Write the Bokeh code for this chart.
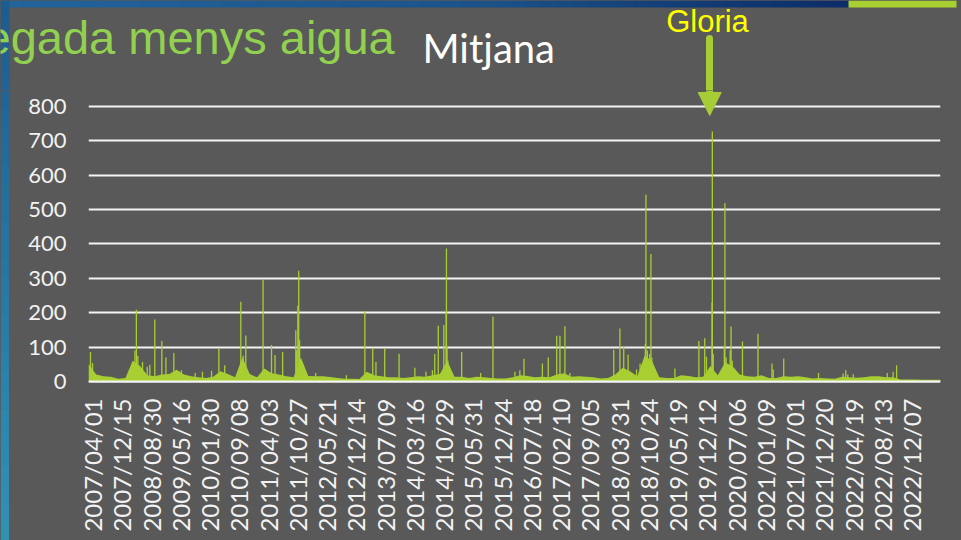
from math import pi
from bokeh.plotting import figure
from bokeh.layouts import column, row
from bokeh.models import Range1d, FixedTicker, Label, Arrow, NormalHead, Span
from bokeh.embed import file_html
from bokeh.resources import INLINE

# ---- data -------------------------------------------------------------
tick_labels = ["2007/04/01", "2007/12/15", "2008/08/30", "2009/05/16", "2010/01/30",
               "2010/09/08", "2011/04/03", "2011/10/27", "2012/05/21", "2012/12/14",
               "2013/07/09", "2014/03/16", "2014/10/29", "2015/05/31", "2015/12/24",
               "2016/07/18", "2017/02/10", "2017/09/05", "2018/03/31", "2018/10/24",
               "2019/05/19", "2019/12/12", "2020/07/06", "2021/01/09", "2021/07/01",
               "2021/12/20", "2022/04/19", "2022/08/13", "2022/12/07"]
y_ticks = [0, 100, 200, 300, 400, 500, 600, 700, 800]

# x measured in "label steps" (0 = first label, 28 = last label)
series_start = -0.137
series_end = 28.99
base_first = -0.125
base_step = 0.25
base_values = [50, 20, 15, 14, 8, 10, 60, 45, 18, 15, 20, 22, 34, 20, 15, 12, 10, 14, 30, 22, 12, 70, 22, 12,
               38, 24, 20, 15, 12, 70, 16, 15, 15, 13, 10, 8, 8, 7, 28, 18, 15, 12, 12, 10, 12, 15, 14,
               18, 22, 60, 14, 14, 10, 14, 12, 10, 9, 9, 12, 18, 16, 12, 14, 12, 20, 24, 14, 15, 14, 12,
               9, 10, 20, 40, 30, 15, 75, 60, 12, 10, 10, 18, 16, 12, 14, 45, 18, 55, 45, 20, 15, 14, 18,
               10, 10, 15, 14, 15, 12, 9, 10, 9, 8, 14, 12, 11, 12, 15, 15, 12, 12, 6, 6, 6, 5, 5, 5]

spike_pos = [-0.07, 0.00, 1.45, 1.50, 1.55, 1.71, 1.87, 1.96, 2.13, 2.37, 2.51, 2.78, 3.04, 3.51, 3.76,
             4.07, 4.32, 4.52, 5.07, 5.15, 5.24,
             5.83, 6.12, 6.24, 6.50, 6.95, 6.98, 7.02, 7.05, 7.08, 7.12, 7.63, 8.68, 9.31, 9.58, 9.69,
             9.99, 10.48, 11.02, 11.40,
             11.62, 11.70, 11.82, 12.01, 12.09, 12.10, 12.12, 12.15, 12.62, 13.27, 13.69, 14.44, 14.61,
             14.75, 15.38, 15.58, 15.87, 15.98, 16.15, 16.32,
             17.82, 18.03, 18.16, 18.31, 18.60, 18.72, 18.90, 18.92, 18.97, 19.05, 19.09, 19.12, 19.91,
             20.73, 20.93, 20.99, 21.18, 21.19, 21.22, 21.60, 21.62, 21.66, 21.80, 21.83, 21.87, 22.22,
             22.75,
             23.23, 23.27, 23.63, 24.82, 25.66, 25.75, 25.82, 26.01, 27.17, 27.37, 27.49]
spike_vals = [86, 54, 90, 209, 75, 57, 43, 49, 180, 118, 70, 83, 33, 25, 28,
              31, 96, 47, 232, 75, 134,
              297, 106, 77, 86, 149, 90, 220, 322, 120, 60, 25, 18, 205, 98, 57,
              96, 81, 40, 28,
              33, 80, 162, 164, 200, 387, 100, 60, 86, 25, 188, 28, 33,
              66, 52, 70, 133, 133, 161, 25,
              92, 154, 102, 78, 35, 52, 110, 543, 90, 80, 371, 70, 38,
              118, 126, 72, 230, 727, 80, 100, 519, 70, 90, 160, 60, 116,
              139,
              52, 35, 67, 25, 23, 33, 20, 21, 25, 28, 47]

# ---- styling ----------------------------------------------------------
BG = "#595959"
GREEN = "#A8CF32"
ARROW = "#A6CC38"
TXT = "#F2F2F2"
PAGE_W, PAGE_H = 961, 540
HEAD_H = 90
BAND_W = 9


def mix(c1, c2, t):
    a = [int(c1[i:i + 2], 16) for i in (1, 3, 5)]
    b = [int(c2[i:i + 2], 16) for i in (1, 3, 5)]
    return "#%02x%02x%02x" % tuple(round(a[k] + (b[k] - a[k]) * t) for k in range(3))


def bare(fig):
    fig.grid.visible = False
    return fig


# decorative slide gradients (left band: top -> bottom, top band: left -> right)
LEFT_TOP, LEFT_BOTTOM = "#1F5B8D", "#3192B4"
TOP_STOPS = [(0, "#22659B"), (480, "#1C5289"), (848, "#0C2C68")]
TOP_GREEN = "#A8D030"
N_STEPS = 24

# ---- header (titles, annotation arrow) --------------------------------
head = bare(figure(width=PAGE_W, height=HEAD_H, output_backend="svg", toolbar_location=None,
                   x_range=Range1d(0, PAGE_W), y_range=Range1d(0, HEAD_H),
                   x_axis_location=None, y_axis_location=None, frame_align=False,
                   min_border=0, background_fill_color=BG, border_fill_color=BG,
                   outline_line_color=None))

# top band gradient
tx0, tx1, tcol = [], [], []
for (xa, ca), (xb, cb) in zip(TOP_STOPS[:-1], TOP_STOPS[1:]):
    for k in range(N_STEPS):
        tx0.append(xa + (xb - xa) * k / N_STEPS)
        tx1.append(xa + (xb - xa) * (k + 1) / N_STEPS + 0.5)
        tcol.append(mix(ca, cb, (k + 0.5) / N_STEPS))
head.quad(left=tx0, right=tx1, bottom=HEAD_H - 7, top=HEAD_H, fill_color=tcol, line_color=None)
head.quad(left=[848], right=[956], bottom=HEAD_H - 7, top=HEAD_H, fill_color=TOP_GREEN, line_color=None)

# left band (header part)
hy0, hy1, hcol = [], [], []
for k in range(6):
    y_top = HEAD_H - HEAD_H * k / 6
    y_bot = HEAD_H - HEAD_H * (k + 1) / 6 - 0.5
    hy0.append(y_bot)
    hy1.append(y_top)
    hcol.append(mix(LEFT_TOP, LEFT_BOTTOM, (HEAD_H * (k + 0.5) / 6) / PAGE_H))
head.quad(left=0, right=BAND_W, bottom=hy0, top=hy1, fill_color=hcol, line_color=None)

head.add_layout(Label(x=-16, y=53, text="egada menys aigua", text_font="Liberation Sans",
                      text_font_size="47px", text_color="#92D050", text_baseline="alphabetic"))
head.add_layout(Label(x=422, y=43, text="Mitjana", text_font="Lato",
                      text_font_size="40px", text_color="#FFFFFF", text_baseline="alphabetic"))
head.add_layout(Label(x=707, y=69, text="Gloria", text_font="Liberation Sans",
                      text_font_size="31px", text_color="#FFFF00", text_baseline="alphabetic",
                      text_align="center"))
head.add_layout(Arrow(x_start=709, y_start=52, x_end=709, y_end=-30,
                      line_color=ARROW, line_width=7, line_cap="round", end=None))

# ---- left band below header -------------------------------------------
BODY_H = PAGE_H - HEAD_H
band = bare(figure(width=BAND_W, height=BODY_H, output_backend="svg", toolbar_location=None,
                   x_range=Range1d(0, BAND_W), y_range=Range1d(0, BODY_H),
                   x_axis_location=None, y_axis_location=None, frame_align=False,
                   min_border=0, background_fill_color=BG, border_fill_color=BG,
                   outline_line_color=None))
by0, by1, bcol = [], [], []
for k in range(N_STEPS):
    y_top = BODY_H - BODY_H * k / N_STEPS
    y_bot = BODY_H - BODY_H * (k + 1) / N_STEPS - 0.5
    by0.append(y_bot)
    by1.append(y_top)
    bcol.append(mix(LEFT_TOP, LEFT_BOTTOM, (HEAD_H + BODY_H * (k + 0.5) / N_STEPS) / PAGE_H))
band.quad(left=0, right=BAND_W, bottom=by0, top=by1, fill_color=bcol, line_color=None)

# ---- chart ------------------------------------------------------------
base_x = [series_start] + [base_first + base_step * i for i in range(len(base_values))] + [series_end]
base_y = [base_values[0]] + base_values + [base_values[-1]]

p = figure(width=PAGE_W - BAND_W, height=BODY_H, output_backend="svg", toolbar_location=None,
           x_range=Range1d(series_start, series_end), y_range=Range1d(-8.73, 846.5),
           min_border_left=79, min_border_right=21, min_border_top=0, min_border_bottom=156,
           frame_align=False,
           background_fill_color=BG, border_fill_color=BG, outline_line_color=None)

p.varea(x=base_x, y1=0, y2=base_y, fill_color=GREEN)
p.segment(x0=spike_pos, y0=[0] * len(spike_pos), x1=spike_pos, y1=spike_vals,
          line_color=GREEN, line_width=1.3)

p.xgrid.visible = False
p.ygrid.ticker = FixedTicker(ticks=y_ticks)
p.ygrid.grid_line_color = "#F4F4F4"
p.ygrid.grid_line_width = 2
p.add_layout(Span(location=0, dimension="width", line_color="#F4F4F4", line_width=2.2, level="overlay"))

p.add_layout(Arrow(x_start=21.1, y_start=880, x_end=21.1, y_end=773.8,
                   line_color=ARROW, line_width=7,
                   end=NormalHead(size=23, fill_color=ARROW, line_color=ARROW, line_width=1)))

for ax in (p.xaxis, p.yaxis):
    ax.axis_line_color = None
    ax.major_tick_line_color = None
    ax.minor_tick_line_color = None
    ax.major_tick_out = 0
    ax.major_tick_in = 0
    ax.major_label_text_font = "Lato"
    ax.major_label_text_color = TXT

p.yaxis.ticker = FixedTicker(ticks=y_ticks)
p.yaxis.major_label_text_font_size = "22px"
p.yaxis.major_label_standoff = 22

p.xaxis.ticker = FixedTicker(ticks=list(range(len(tick_labels))))
p.xaxis.major_label_overrides = {i: t for i, t in enumerate(tick_labels)}
p.xaxis.major_label_orientation = pi / 2
p.xaxis.major_label_text_font_size = "24px"
p.xaxis.major_label_standoff = 14

body = row(band, p, spacing=0, styles={"background-color": BG})
layout = column(head, body, spacing=0, styles={"background-color": BG})
open("out.html", "w").write(file_html(layout, INLINE))
